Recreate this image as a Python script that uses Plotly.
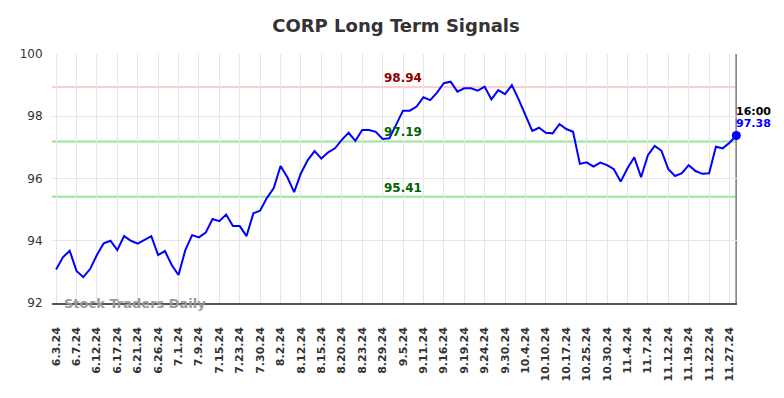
import plotly.graph_objects as go

title = "CORP Long Term Signals"

values = [
    93.08, 93.47, 93.68, 93.03, 92.83, 93.09, 93.54, 93.92, 94.00, 93.70,
    94.15, 94.00, 93.91, 94.02, 94.15, 93.54, 93.67, 93.22, 92.90, 93.70,
    94.18, 94.11, 94.26, 94.70, 94.63, 94.84, 94.47, 94.47, 94.15, 94.88,
    94.97, 95.38, 95.69, 96.40, 96.04, 95.56, 96.17, 96.59, 96.88, 96.64,
    96.84, 96.97, 97.24, 97.47, 97.21, 97.56, 97.56, 97.50, 97.27, 97.29,
    97.72, 98.18, 98.18, 98.31, 98.61, 98.52, 98.76, 99.06, 99.11, 98.79,
    98.90, 98.90, 98.82, 98.95, 98.54, 98.84, 98.71, 99.00, 98.54, 98.04,
    97.53, 97.63, 97.47, 97.45, 97.75, 97.59, 97.50, 96.47, 96.52, 96.38,
    96.51, 96.43, 96.30, 95.90, 96.33, 96.68, 96.04, 96.75, 97.05, 96.89,
    96.30, 96.08, 96.17, 96.43, 96.24, 96.15, 96.17, 97.02, 96.97, 97.15,
    97.38,
]

tick_labels = [
    "6.3.24", "6.7.24", "6.12.24", "6.17.24", "6.21.24", "6.26.24", "7.1.24",
    "7.9.24", "7.15.24", "7.23.24", "7.30.24", "8.2.24", "8.12.24", "8.15.24",
    "8.20.24", "8.23.24", "8.29.24", "9.5.24", "9.11.24", "9.16.24", "9.19.24",
    "9.24.24", "9.30.24", "10.4.24", "10.10.24", "10.17.24", "10.25.24",
    "10.30.24", "11.4.24", "11.7.24", "11.12.24", "11.19.24", "11.22.24",
    "11.27.24",
]
tick_step = 3

resistance = 98.94
support_upper = 97.19
support_lower = 95.41
last_time = "16:00"

x = list(range(len(values)))
tick_vals = [i * tick_step for i in range(len(tick_labels))]
last_x = x[-1]
last_v = values[-1]

fig = go.Figure()

fig.add_trace(go.Scatter(
    x=x, y=values, mode="lines",
    line=dict(color="#0000ff", width=2),
    hoverinfo="skip", showlegend=False,
))
fig.add_trace(go.Scatter(
    x=[last_x], y=[last_v], mode="markers",
    marker=dict(color="#0000ff", size=9),
    cliponaxis=False,
    hoverinfo="skip", showlegend=False,
))

for lvl, col in [(resistance, "#ffcccc"), (support_upper, "#99e699"), (support_lower, "#99e699")]:
    fig.add_shape(type="line", xref="paper", yref="y", x0=0, x1=1, y0=lvl, y1=lvl,
                  line=dict(color=col, width=2), layer="below")

label_x = 51
for lvl, col in [(resistance, "#8b0000"), (support_upper, "#006400"), (support_lower, "#006400")]:
    fig.add_annotation(x=label_x, y=lvl, text=f"<b>{lvl:.2f}</b>", showarrow=False,
                       yanchor="bottom", yshift=0, font=dict(color=col, size=12, family="DejaVu Sans"))

fig.add_annotation(x=last_x, y=last_v, text=f"<b>{last_time}</b>", showarrow=False,
                   xanchor="left", yanchor="bottom", yshift=16, xshift=-2,
                   font=dict(color="#000000", size=11, family="DejaVu Sans"))
fig.add_annotation(x=last_x, y=last_v, text=f"<b>{last_v:.2f}</b>", showarrow=False,
                   xanchor="left", yanchor="bottom", yshift=4, xshift=-2,
                   font=dict(color="#0000ff", size=11, family="DejaVu Sans"))

fig.add_shape(type="line", xref="x", yref="paper", x0=last_x, x1=last_x, y0=0, y1=1,
              line=dict(color="#888888", width=2), layer="below")

fig.add_annotation(xref="paper", yref="paper", x=0.015, y=0, text="<b>Stock Traders Daily</b>",
                   showarrow=False, xanchor="left", yanchor="middle",
                   font=dict(color="#999999", size=13, family="DejaVu Sans"))

fig.update_layout(
    width=776, height=390,
    margin=dict(l=38, r=47, t=46, b=95),
    paper_bgcolor="white", plot_bgcolor="white",
    title=dict(text=f"<b>{title}</b>", x=0.5, xanchor="center", y=0.954, yanchor="middle",
               font=dict(size=18, color="#333333", family="DejaVu Sans")),
    font=dict(family="DejaVu Sans", color="#333333"),
)

fig.update_xaxes(
    range=[-0.6, 100.1], tickmode="array", tickvals=tick_vals, ticktext=tick_labels,
    tickangle=-90, tickfont=dict(size=11, color="#333333", family="DejaVu Sans", weight="bold"),
    showgrid=True, gridcolor="#e6e6e6", gridwidth=1,
    showline=True, linecolor="#555555", linewidth=1.5,
    ticks="outside", ticklen=18, tickcolor="rgba(0,0,0,0)", zeroline=False,
)
fig.update_yaxes(
    range=[92, 100], tickvals=[92, 94, 96, 98, 100],
    tickfont=dict(size=12, color="#333333"),
    showgrid=True, gridcolor="#e6e6e6", gridwidth=1,
    ticks="outside", ticklen=6, tickcolor="rgba(0,0,0,0)", zeroline=False, showline=False,
)

fig.write_html("out.html")
